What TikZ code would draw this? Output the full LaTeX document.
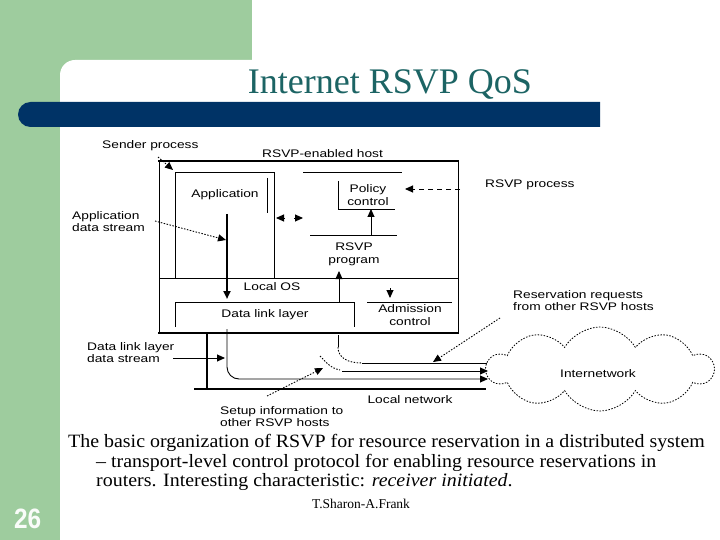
\documentclass[tikz,border=0pt]{standalone}
\usepackage{fontspec}
\setmainfont{Liberation Serif}
\newfontfamily\lab[FakeStretch=1.25]{Liberation Sans}
\newfontfamily\numfont[FakeStretch=0.87]{Liberation Sans}
\newfontfamily\bodyfont[FakeStretch=1.06]{Liberation Serif}
\usetikzlibrary{arrows.meta,shapes.symbols}
\definecolor{sage}{RGB}{158,204,158}
\definecolor{navy}{RGB}{0,51,102}
\definecolor{teal2}{RGB}{28,100,100}
\tikzset{
  lbl/.style={font=\lab\fontsize{11}{13}\selectfont, inner sep=0pt},
  arr/.style={-{Triangle[length=8pt,width=7pt]}},
  dots/.style={dash pattern=on 1.5pt off 1.5pt},
  ln/.style={line width=0.9pt},
  thk/.style={line width=2.2pt},
  body/.style={font=\bodyfont\fontsize{18.8}{19.5}\selectfont, inner sep=0pt, anchor=base west}
}
\begin{document}
\begin{tikzpicture}[x=1pt,y=-1pt]
\useasboundingbox (0,0) rectangle (720,540);
% background
\fill[sage] (0,0) rectangle (252,80);
\fill[sage] (0,0) rectangle (60,540);
\fill[white] (60,540) -- (60,75) arc[start angle=180,end angle=270,radius=15] -- (720,60) -- (720,540) -- cycle;
\fill[navy] (600,102) -- (30.5,102) arc[start angle=270,end angle=90,radius=12.5] -- (600,127) -- cycle;
\node[font=\fontsize{36}{40}\selectfont, text=teal2, anchor=base, inner sep=0pt] (title) at (390,94) {Internet RSVP QoS};

% host box
\draw[ln] (159,161) rectangle (458,333);
\draw[thk] (158,161) -- (459,161);
\draw[thk] (158,333) -- (459,333);
\draw[ln] (159,278) -- (458,278);
% application box
\draw[ln] (175,278) -- (175,172) -- (274,172) -- (274,278);
\draw[ln] (267,178) -- (267,213);
\coordinate (appS) at (227,214);
\coordinate (dllT) at (227,299);
\draw[thk, arr] (appS) -- (dllT);
% double arrow (two heads)
\coordinate (daM1) at (285,218);
\coordinate (daL) at (276,218);
\coordinate (daM2) at (294,218);
\coordinate (daR) at (303,218);
\draw[ln, arr] (daM1) -- (daL);
\draw[ln, arr] (daM2) -- (daR);
% policy control
\draw[ln] (303,172) -- (402,172);
\draw[ln] (338,181) -- (338,209) -- (395,209);
\coordinate (rsvpT) at (371,235);
\coordinate (polB) at (371,209);
\draw[ln, arr] (rsvpT) -- (polB);
\draw[ln] (310,235) -- (397,235);
% up arrow to RSVP program
\coordinate (dllR) at (339,302);
\coordinate (progB) at (339,271);
\draw[ln, arr] (dllR) -- (progB);
% admission control
\draw[ln] (367,302) -- (452,302);
\coordinate (admA) at (390,288);
\coordinate (admB) at (390,298);
\draw[ln, arr] (admA) -- (admB);
% data link layer box
\draw[ln] (175,327) -- (175,302) -- (354,302) -- (354,327);

% labels inside
\node[lbl, anchor=base] (application) at (225,198) {Application};
\node[lbl, anchor=base] (policy) at (368,193) {Policy};
\node[lbl, anchor=base] (control) at (368,206) {control};
\node[lbl, anchor=base] (rsvp) at (354,250) {RSVP};
\node[lbl, anchor=base] (program) at (354,263) {program};
\node[lbl, anchor=base] (localos) at (272,290) {Local OS};
\node[lbl, anchor=base] (dll) at (265,317) {Data link layer};
\node[lbl, anchor=base] (adm1) at (410,312) {Admission};
\node[lbl, anchor=base] (adm2) at (410,325) {control};

% outside labels
\node[lbl, anchor=base west] (sender) at (102,149) {Sender process};
\node[lbl, anchor=base west] (host) at (262,158) {RSVP-enabled host};
\node[lbl, anchor=base west] (rsvpproc) at (485,188) {RSVP process};
\node[lbl, anchor=base west] (ads1) at (72,219) {Application};
\node[lbl, anchor=base west] (ads2) at (72,232) {data stream};
\node[lbl, anchor=base west] (res1) at (513,298) {Reservation requests};
\node[lbl, anchor=base west] (res2) at (513,310) {from other RSVP hosts};
\node[lbl, anchor=base west] (dls1) at (87,350) {Data link layer};
\node[lbl, anchor=base west] (dls2) at (87,362) {data stream};
\node[lbl, anchor=base] (localnet) at (410,403) {Local network};
\node[lbl, anchor=base west] (setup1) at (220,414) {Setup information to};
\node[lbl, anchor=base west] (setup2) at (220,426) {other RSVP hosts};

% cloud
\node[cloud, draw, dots, line width=0.8pt, cloud puffs=10, cloud puff arc=120, cloud ignores aspect, minimum width=226pt, minimum height=84pt, inner sep=0pt] (net) at (600,369) {};
\node[lbl, anchor=base] (inet) at (598,377) {Internetwork};

% annotation arrows
\coordinate (sA) at (158,157); \coordinate (sB) at (173,170);
\draw[ln, dots, arr] (sA) -- (sB);
\coordinate (aA) at (155,221); \coordinate (aB) at (226,240);
\draw[ln, dots, arr] (aA) -- (aB);
\coordinate (pA) at (460,189); \coordinate (pB) at (405,189);
\draw[ln, dash pattern=on 5pt off 4pt, arr] (pA) -- (pB);
\coordinate (dA) at (173,358); \coordinate (dB) at (225,358);
\draw[ln, arr] (dA) -- (dB);
\coordinate (uA) at (267,396); \coordinate (uB) at (323,368);
\draw[ln, dots, arr] (uA) -- (uB);
\coordinate (rA) at (500,318); \coordinate (rB) at (433,362);
\draw[ln, dots, arr] (rA) -- (rB);

% network lines
\draw[thk] (194,389) -- (486,389);
\draw[thk] (207,333) -- (207,389);
\coordinate (in1) at (338,335);
\draw[ln] (in1) -- (338,347);
\draw[ln, dots] (338,347) .. controls (338,358) and (348,363) .. (362,363);
\draw[ln] (362,363) -- (487,363);
\draw[ln, dots] (320,356) .. controls (326,362) and (330,368) .. (340,370);
\coordinate (o2) at (488,371);
\draw[ln, arr] (342,371) -- (o2);
\coordinate (o3) at (488,379);
\draw[ln, arr, rounded corners=12] (227,329) -- (227,379) -- (o3);

% body text
\node[body] (l1) at (68,447) {The basic organization of RSVP for resource reservation in a distributed system};
\node[body] (l2) at (96,467) {– transport-level control protocol for enabling resource reservations in};
\node[body] (l3) at (96,486) {routers. Interesting characteristic: \textit{receiver initiated}.};
\node[font=\fontsize{13.5}{15}\selectfont, anchor=base, inner sep=0pt] (foot) at (361,508) {T.Sharon-A.Frank};
\node[font=\numfont\bfseries\fontsize{28}{28}\selectfont, text=white!94!sage, anchor=base west, inner sep=0pt] (num) at (14,528) {26};
\end{tikzpicture}
\end{document}
